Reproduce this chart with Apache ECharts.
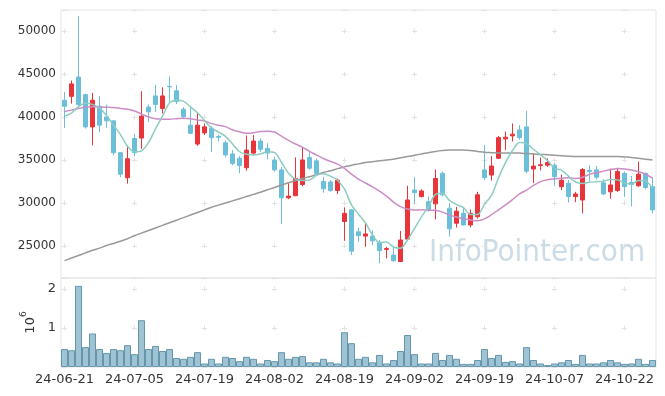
<!DOCTYPE html>
<html><head><meta charset="utf-8">
<script src="https://cdn.jsdelivr.net/npm/echarts@6/dist/echarts.min.js"></script>
<style>html,body{margin:0;padding:0;background:#fff}#c{width:665px;height:396px}</style>
</head><body><div id="c"></div>
<script>
const dates = ['24-06-21','24-06-24','24-06-25','24-06-26','24-06-27','24-06-28','24-07-01','24-07-02','24-07-03','24-07-04',
'24-07-05','24-07-08','24-07-09','24-07-10','24-07-11','24-07-12','24-07-15','24-07-16','24-07-17','24-07-18',
'24-07-19','24-07-22','24-07-23','24-07-24','24-07-25','24-07-26','24-07-29','24-07-30','24-07-31','24-08-01',
'24-08-02','24-08-05','24-08-06','24-08-07','24-08-08','24-08-09','24-08-12','24-08-13','24-08-14','24-08-16',
'24-08-19','24-08-20','24-08-21','24-08-22','24-08-23','24-08-26','24-08-27','24-08-28','24-08-29','24-08-30',
'24-09-02','24-09-03','24-09-04','24-09-05','24-09-06','24-09-09','24-09-10','24-09-11','24-09-12','24-09-13',
'24-09-19','24-09-20','24-09-23','24-09-24','24-09-25','24-09-26','24-09-27','24-09-30','24-10-02','24-10-04',
'24-10-07','24-10-08','24-10-10','24-10-11','24-10-14','24-10-15','24-10-16','24-10-17','24-10-18','24-10-21',
'24-10-22','24-10-23','24-10-24','24-10-25','24-10-28'];

const opens = [41950,42400,44650,42600,38850,41250,40000,39550,35850,32950,
37500,37550,41150,42450,41000,43550,43050,40900,39050,36850,
38150,38700,37750,37000,35700,35200,34100,35800,37200,36350,
35000,33850,30600,30850,32150,35300,34900,32500,32450,31450,
27850,29200,26650,26150,26150,25400,24600,23950,23200,25800,
31500,30750,30150,29900,33450,29400,27650,28800,27450,28400,
33850,33250,35200,37450,37800,38500,38850,33950,34350,34400,
34400,31900,32300,30750,30350,33800,33850,32350,31300,31450,
33450,32400,32000,33450,31900];
const closes = [41250,43850,41450,38850,41950,39050,39550,35850,33350,35150,
35850,40100,40600,41450,42450,43500,41800,40050,38100,39050,
38850,37600,37650,35600,34600,34350,36150,37200,36250,35800,
33850,30600,30800,32850,35000,34050,33450,31650,31450,32650,
28800,24400,26200,26400,25600,24450,24700,23300,25700,30350,
31200,31400,29250,32850,30950,27000,29050,27450,28800,30950,
32950,34300,37600,37650,38000,37600,33700,34300,34450,34700,
33050,32650,30750,31050,33900,33650,33000,31050,32100,33650,
31900,32150,33350,31800,29200];
const lows = [38700,41550,41150,38650,36700,38250,38750,35550,33000,32250,
35450,36300,39400,40600,40400,41800,41500,39750,38000,36650,
37900,35950,37150,35300,34400,33450,33750,35600,35950,35100,
33650,27550,30450,30800,31950,33850,33250,31200,31300,31050,
25600,23950,25500,24900,25100,23000,23550,23150,23150,25600,
29950,30650,29000,28100,30750,26100,27150,27400,27150,28200,
32650,32600,35100,36150,37150,37350,33450,32300,33800,34200,
32000,31500,30050,30100,28800,32500,32700,30950,30500,31300,
30700,29600,31900,31600,28800];
const highs = [42900,44250,51750,42700,42800,42400,41450,39600,35900,36700,
38050,43000,41450,43750,43450,44700,43700,41150,41200,40450,
39250,38950,37950,37250,36150,35450,37850,37900,37500,36950,
35400,34200,32300,35300,36500,35950,35200,33050,32650,32850,
29500,29300,27150,27650,26850,25700,24900,24900,26750,32000,
33000,31600,30750,33900,33650,30000,29550,29500,29250,31300,
36750,35450,37800,38300,39250,39050,40700,35800,35300,35200,
34650,33300,32650,31300,34050,34400,34300,32750,34000,34050,
33650,33150,34800,33550,32950];

const volumes = [460000,430000,2080000,510000,860000,460000,360000,460000,430000,560000,
330000,1200000,460000,540000,410000,460000,230000,210000,260000,380000,
90000,210000,90000,260000,230000,150000,260000,210000,90000,180000,
150000,380000,210000,260000,280000,120000,120000,210000,120000,90000,
890000,610000,210000,260000,120000,310000,90000,180000,410000,820000,
330000,90000,90000,360000,180000,310000,210000,80000,80000,180000,
460000,230000,310000,130000,150000,90000,510000,180000,90000,50000,
90000,120000,180000,80000,310000,90000,90000,120000,180000,120000,
80000,90000,210000,80000,180000];

const ma5 = [40100,40450,41200,41600,41470,41030,40170,39050,37950,36590,
35950,36060,37010,38630,40090,41620,41960,41850,41180,40500,
39570,38730,38250,37750,36860,35960,35670,35580,35710,35950,
35850,34740,33460,32780,32620,32660,33230,33400,33120,32650,
31600,29790,28700,27690,26280,25410,25470,24890,24750,25700,
27050,28390,29580,31010,31130,30290,29820,29460,28650,28650,
29840,30890,32920,34690,36100,37030,36910,36250,35610,34950,
34040,33830,33120,32440,32280,32400,32470,32530,32740,32690,
32340,32170,32630,32570,31680];
const ma20 = [40650,40800,40980,41150,41180,41170,41140,41100,41000,40900,
40700,40350,40000,39800,39750,39750,39800,39850,39800,39663,
39543,39230,39040,38878,38510,38275,38105,38173,38318,38350,
38250,37775,37285,36855,36483,36010,35593,35173,34840,34520,
34018,33358,32785,32325,31875,31380,30808,30113,29585,29313,
29180,29220,29143,29143,28940,28588,28368,28158,28025,27940,
28148,28643,29213,29775,30395,31053,31503,32053,32490,32708,
32800,32863,32938,32848,32995,33328,33525,33705,33870,34005,
33953,33845,33633,33340,32900];
const ma120 = [23300,23600,23900,24200,24500,24750,25050,25300,25550,25850,
26200,26500,26800,27100,27400,27700,28000,28300,28600,28900,
29200,29500,29750,30000,30250,30500,30750,31000,31250,31550,
31800,32100,32350,32600,32850,33050,33300,33550,33750,34000,
34200,34400,34550,34700,34800,34900,35000,35100,35250,35400,
35550,35700,35850,36000,36100,36150,36150,36150,36100,36000,
35900,35850,35800,35800,35800,35800,35750,35700,35650,35600,
35550,35500,35450,35400,35400,35400,35400,35400,35400,35400,
35350,35300,35200,35100,35000];

const priceTickLabels = ['25000','30000','35000','40000','45000','50000'];
const volumeTickLabels = ['1','2'];

const crossColor = '#e2e2e2';
const borderColor = '#e4e4e4';
const font = 'DejaVu Sans';

const chart = echarts.init(document.getElementById('c'));
chart.setOption({
  animation: false,
  textStyle: { fontFamily: font },
  grid: [
    { left: 61, top: 10, width: 595, height: 268, show: true, borderColor: borderColor, borderWidth: 1 },
    { left: 61, top: 278, width: 595, height: 89, show: true, borderColor: borderColor, borderWidth: 1 }
  ],
  graphic: [{
    type: 'text', left: 429, top: 237, z: -1, silent: true,
    style: { text: 'InfoPointer.com', font: '31px "DejaVu Sans Condensed", "DejaVu Sans"', fill: '#cbdce6' }
  }],
  xAxis: [
    { type: 'category', gridIndex: 0, data: dates, boundaryGap: true,
      axisLine: { show: false }, axisTick: { show: false }, axisLabel: { show: false },
      splitLine: { show: true, interval: 9, alignWithLabel: true,
        lineStyle: { color: crossColor, width: 1, type: [5, 38], dashOffset: 24.5 } } },
    { type: 'category', gridIndex: 1, data: dates, boundaryGap: true,
      axisLine: { show: false }, axisTick: { show: false },
      axisLabel: { show: true, interval: 9, margin: 6, fontSize: 13, color: '#333', fontFamily: font },
      splitLine: { show: true, interval: 9, alignWithLabel: true,
        lineStyle: { color: crossColor, width: 1, type: [5, 34], dashOffset: 30.5 } } }
  ],
  yAxis: [
    { type: 'value', gridIndex: 0, min: 21280, max: 52440, splitNumber: 6, scale: true,
      axisLine: { show: false }, axisTick: { show: false },
      axisLabel: { fontSize: 12, color: '#333', margin: 5, showMinLabel: false, showMaxLabel: false,
        formatter: v => priceTickLabels.indexOf(String(v)) >= 0 ? String(v) : '' },
      splitLine: { show: true, lineStyle: { color: crossColor, width: 1, type: [5, 65], dashOffset: 69 } } },
    { type: 'value', gridIndex: 1, min: 0, max: 2282000, interval: 1000000,
      axisLine: { show: false }, axisTick: { show: false },
      axisLabel: { fontSize: 13, color: '#333', margin: 5, showMinLabel: false, showMaxLabel: false,
        formatter: v => { const s = String(v / 1000000); return volumeTickLabels.indexOf(s) >= 0 ? s : ''; } },
      splitLine: { show: true, lineStyle: { color: crossColor, width: 1, type: [5, 65], dashOffset: 69 } },
      name: '{a|10}{b|6}', nameLocation: 'middle', nameRotate: 90, nameGap: 24,
      nameTextStyle: { rich: {
        a: { fontSize: 13, color: '#333', fontFamily: font, lineHeight: 18, verticalAlign: 'bottom' },
        b: { fontSize: 9, color: '#333', fontFamily: font, lineHeight: 18, verticalAlign: 'top' }
      } } }
  ],
  series: [
    { type: 'candlestick', xAxisIndex: 0, yAxisIndex: 0, barWidth: 5,
      data: dates.map((d, i) => [opens[i], closes[i], lows[i], highs[i]]),
      itemStyle: { color: '#e8343b', color0: '#6bbfd9', borderColor: '#e8343b', borderColor0: '#6bbfd9', borderWidth: 1 } },
    { type: 'line', xAxisIndex: 0, yAxisIndex: 0, data: ma120, smooth: 0.3, symbol: 'none',
      lineStyle: { color: '#999999', width: 1.5 } },
    { type: 'line', xAxisIndex: 0, yAxisIndex: 0, data: ma20, smooth: 0.3, symbol: 'none',
      lineStyle: { color: '#cc8cc6', width: 1.5 } },
    { type: 'line', xAxisIndex: 0, yAxisIndex: 0, data: ma5, smooth: 0.3, symbol: 'none',
      lineStyle: { color: '#8ccdc2', width: 1.5 } },
    { type: 'bar', xAxisIndex: 1, yAxisIndex: 1, data: volumes, barCategoryGap: '0%',
      itemStyle: { color: '#9fc3d2', borderColor: '#6497ae', borderWidth: 1 } }
  ]
});
</script></body></html>
